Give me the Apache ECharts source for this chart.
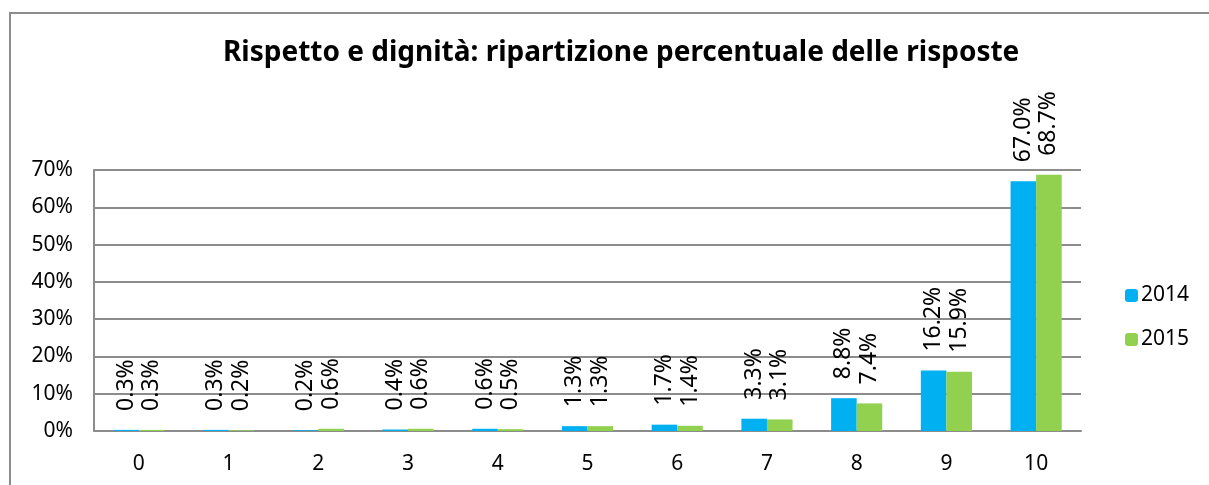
<!DOCTYPE html>
<html>
<head>
<meta charset="utf-8">
<script src="https://cdn.jsdelivr.net/npm/echarts@6/dist/echarts.min.js"></script>
<style>
  html, body { margin: 0; padding: 0; background: #fff; }
  #chart { width: 1209px; height: 485px; }
</style>
</head>
<body>
<div id="chart"></div>
<script>
// categorie (punteggio) e percentuali per anno
const categories = ['0', '1', '2', '3', '4', '5', '6', '7', '8', '9', '10'];
const values2014 = [0.3, 0.3, 0.2, 0.4, 0.6, 1.3, 1.7, 3.3, 8.8, 16.2, 67.0];
const values2015 = [0.3, 0.2, 0.6, 0.6, 0.5, 1.3, 1.4, 3.1, 7.4, 15.9, 68.7];
const yTicks = [0, 10, 20, 30, 40, 50, 60, 70];

const FONT = 'Noto Sans';

const chart = echarts.init(document.getElementById('chart'));

const barLabel = {
  show: true,
  position: 'top',
  rotate: 90,
  align: 'left',
  verticalAlign: 'middle',
  distance: 19,
  color: '#000',
  fontFamily: FONT,
  fontSize: 23,
  formatter: (p) => p.value.toFixed(1) + '%'
};

const option = {
  animation: false,
  backgroundColor: '#fff',
  title: {
    text: 'Rispetto e dignità: ripartizione percentuale delle risposte',
    left: 218,
    top: 34,
    textStyle: { fontFamily: FONT, fontSize: 28, fontWeight: 'bold', color: '#000' }
  },
  graphic: [{
    type: 'rect',
    shape: { x: 10, y: 13, width: 1300, height: 600 },
    style: { fill: 'none', stroke: '#8c8c8c', lineWidth: 2 },
    silent: true
  }],
  legend: {
    orient: 'vertical',
    left: 1120,
    top: 280,
    itemWidth: 13,
    itemHeight: 13,
    itemGap: 23,
    data: ['2014', '2015'],
    textStyle: { fontFamily: FONT, fontSize: 21, color: '#000', padding: [0, 0, 0, -2] }
  },
  grid: { left: 94, right: 128, top: 170, bottom: 54 },
  xAxis: {
    type: 'category',
    data: categories,
    axisLine: { lineStyle: { color: '#8c8c8c', width: 2 } },
    axisTick: { show: false },
    axisLabel: { fontFamily: FONT, fontSize: 21, color: '#000', margin: 23 }
  },
  yAxis: {
    type: 'value',
    min: 0,
    max: yTicks[yTicks.length - 1],
    interval: 10,
    axisLine: { show: true, lineStyle: { color: '#8c8c8c', width: 2 } },
    axisTick: { show: false },
    splitLine: { lineStyle: { color: '#8c8c8c', width: 2 } },
    axisLabel: { fontFamily: FONT, fontSize: 21, color: '#000', margin: 21, formatter: (v) => v + '%' }
  },
  series: [
    {
      name: '2014',
      type: 'bar',
      data: values2014,
      barGap: '0%',
      barCategoryGap: '43%',
      itemStyle: { color: '#00B0F0' },
      label: barLabel
    },
    {
      name: '2015',
      type: 'bar',
      data: values2015,
      itemStyle: { color: '#92D050' },
      label: barLabel
    }
  ]
};

chart.setOption(option);
</script>
</body>
</html>
